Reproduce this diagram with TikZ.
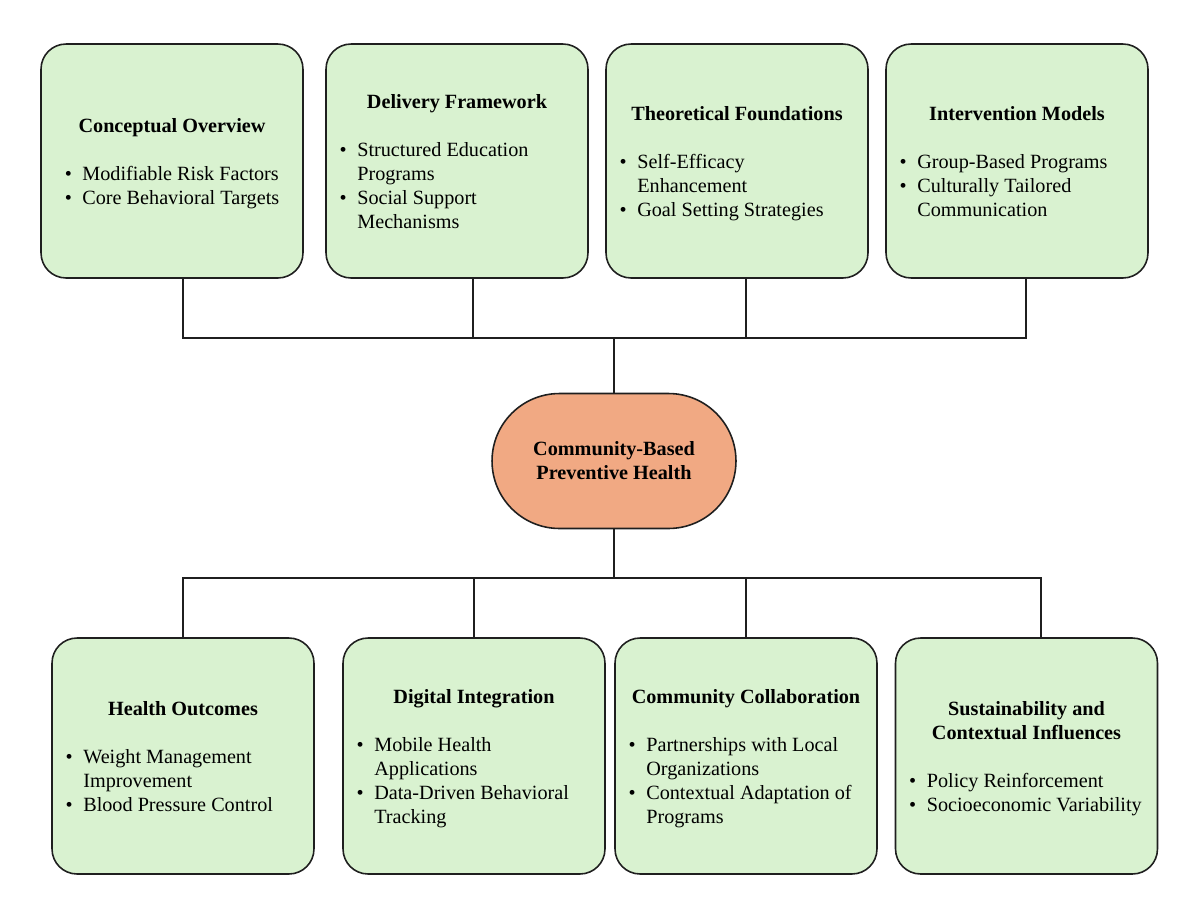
\documentclass[tikz,border=0pt]{standalone}
\usepackage{fontspec}
\setmainfont{Liberation Serif}
\usepackage{array}

\definecolor{boxgreen}{HTML}{D9F2D0}
\definecolor{coreorange}{HTML}{F1A983}
\definecolor{edgegray}{HTML}{1F1F1F}

\newcommand{\pointlist}[1]{\begin{tabular}[t]{@{}l@{\hspace{6pt}}>{\raggedright\arraybackslash}p{123.5pt}@{}}#1\end{tabular}}
\newcommand{\boxhead}[1]{\rule{0pt}{12.5pt}\textbf{#1}}

\begin{document}
\begin{tikzpicture}[x=0.02cm, y=-0.02cm,
	font=\fontsize{11.5}{13.6}\selectfont,
	topicbox/.style={shape=rectangle, draw=edgegray, line width=0.9pt, fill=boxgreen, rounded corners=0.5cm, minimum width=5.24cm, minimum height=4.68cm, align=center, inner sep=0pt},
	corebox/.style={shape=rectangle, draw=edgegray, line width=0.9pt, fill=coreorange, rounded corners=1.35cm, minimum width=4.88cm, minimum height=2.7cm, align=center, font=\fontsize{11.5}{13.6}\selectfont\bfseries},
	wire/.style={draw=edgegray, line width=0.8pt}]
	\useasboundingbox (0,0) rectangle (1200,900);

	% Top row:
	\node[topicbox] (overview) at (172,161) {\boxhead{Conceptual Overview}\\[13.6pt]\begin{tabular}[t]{@{}l@{\hspace{6pt}}l@{}}\textbullet & Modifiable Risk Factors\\ \textbullet & Core Behavioral Targets\end{tabular}};
	\node[topicbox] (delivery) at (457,161) {\boxhead{Delivery Framework}\\[13.6pt]\pointlist{\textbullet & Structured Education\\ & Programs\\ \textbullet & Social Support\\ & Mechanisms}};
	\node[topicbox] (theory) at (737,161) {\boxhead{Theoretical Foundations}\\[13.6pt]\pointlist{\textbullet & Self-Efficacy\\ & Enhancement\\ \textbullet & Goal Setting Strategies}};
	\node[topicbox] (models) at (1017,161) {\boxhead{Intervention Models}\\[13.6pt]\pointlist{\textbullet & Group-Based Programs\\ \textbullet & Culturally Tailored\\ & Communication}};

	% Centre:
	\node[corebox] (core) at (614,461) {Community-Based\\Preventive Health};

	% Bottom row:
	\node[topicbox, minimum height=4.72cm] (outcomes) at (183,756) {\boxhead{Health Outcomes}\\[13.6pt]\pointlist{\textbullet & Weight Management\\ & Improvement\\ \textbullet & Blood Pressure Control}};
	\node[topicbox, minimum height=4.72cm] (digital) at (474,756) {\boxhead{Digital Integration}\\[13.6pt]\pointlist{\textbullet & Mobile Health\\ & Applications\\ \textbullet & Data-Driven Behavioral\\ & Tracking}};
	\node[topicbox, minimum height=4.72cm] (collab) at (746,756) {\boxhead{Community Collaboration}\\[13.6pt]\pointlist{\textbullet & Partnerships with Local\\ & Organizations\\ \textbullet & Contextual Adaptation of\\ & Programs}};
	\node[topicbox, minimum height=4.72cm] (sustain) at (1026.5,756) {\boxhead{Sustainability and}\\\textbf{Contextual Influences}\\[13.6pt]\pointlist{\textbullet & Policy Reinforcement\\ \textbullet & Socioeconomic Variability}};

	% Wires:
	\coordinate (topbus) at (614,338);
	\coordinate (lowbus) at (614,578);
	\draw[wire] ([xshift=0.22cm]overview.south) |- (topbus);
	\draw[wire] ([xshift=0.32cm]delivery.south) |- (topbus);
	\draw[wire] ([xshift=0.18cm]theory.south) |- (topbus);
	\draw[wire] ([xshift=0.18cm]models.south) |- (topbus);
	\draw[wire] (topbus) -- (core.north);
	\draw[wire] (core.south) -- (lowbus);
	\draw[wire] (lowbus) -| (outcomes.north);
	\draw[wire] (lowbus) -| (digital.north);
	\draw[wire] (lowbus) -| (collab.north);
	\draw[wire] (lowbus) -| ([xshift=0.29cm]sustain.north);
\end{tikzpicture}
\end{document}
